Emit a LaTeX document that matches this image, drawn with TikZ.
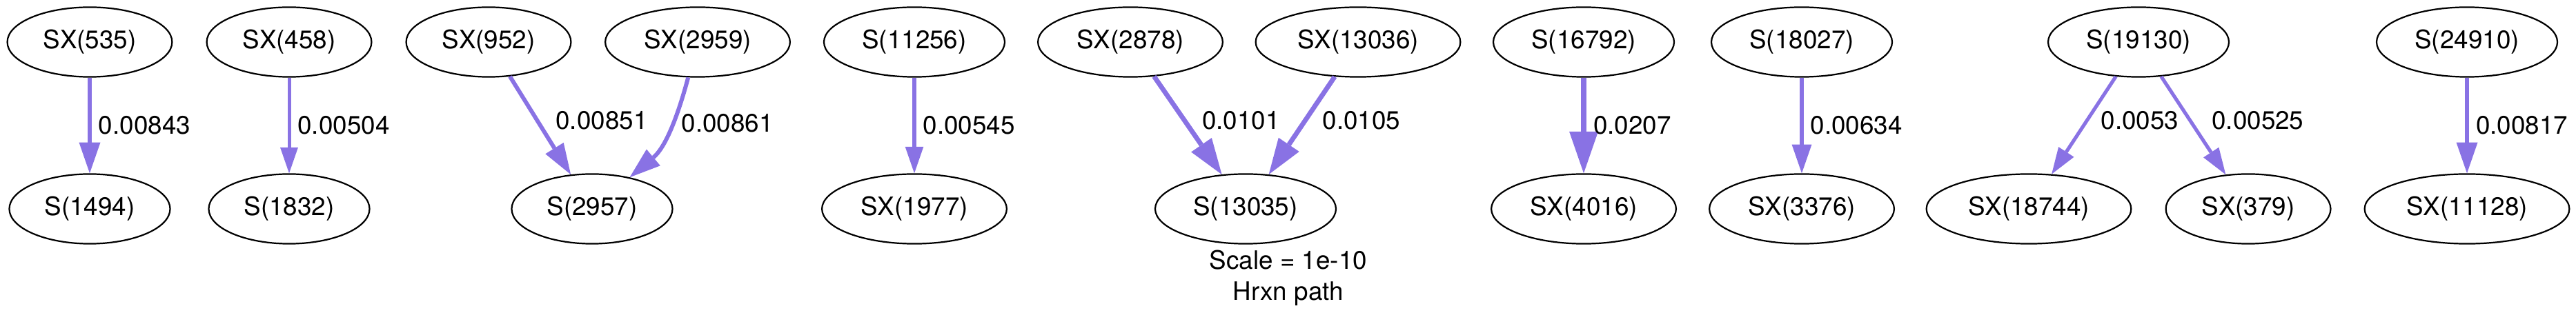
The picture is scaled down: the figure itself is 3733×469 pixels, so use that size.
\documentclass[tikz,border=0pt]{standalone}
\usepackage{fontspec}
\setmainfont{TeX Gyre Heros}
\usetikzlibrary{arrows.meta, shapes.geometric}
\definecolor{fluxcol}{RGB}{137,114,228}

\begin{document}
\begin{tikzpicture}[x=0.36pt, y=0.36pt, font=\fontsize{13.25}{16.2}\selectfont,
  species/.style = {draw, ellipse, line width=0.8pt, inner xsep=6.1pt, inner ysep=3pt, minimum height=36.4pt},
  flux/.style = {draw=fluxcol, line width=#1, -{Triangle[length=0pt 7.5, width=0pt 5.2, line width=0pt]}},
  lbl/.style = {right, inner sep=3.6pt, text=black}
]
\useasboundingbox (0,0) rectangle (3733,469);
% sources
\node[species] (sx535) at (130,408) {SX(535)};
\node[species] (sx458) at (419,408) {SX(458)};
\node[species] (sx952) at (708,408) {SX(952)};
\node[species] (sx2959) at (1011,408) {SX(2959)};
\node[species] (s11256) at (1325,408) {S(11256)};
\node[species] (sx2878) at (1638,408) {SX(2878)};
\node[species] (sx13036) at (1968,408) {SX(13036)};
\node[species] (s16792) at (2295,408) {S(16792)};
\node[species] (s18027) at (2611,408) {S(18027)};
\node[species] (s19130) at (3099,408) {S(19130)};
\node[species] (s24910) at (3575,408) {S(24910)};
% products
\node[species] (s1494) at (130,166) {S(1494)};
\node[species] (s1832) at (419,166) {S(1832)};
\node[species] (s2957) at (858,166) {S(2957)};
\node[species] (sx1977) at (1325,166) {SX(1977)};
\node[species] (s13035) at (1805,166) {S(13035)};
\node[species] (sx4016) at (2295,166) {SX(4016)};
\node[species] (sx3376) at (2611,166) {SX(3376)};
\node[species] (sx18744) at (2940,166) {SX(18744)};
\node[species] (sx379) at (3258,166) {SX(379)};
\node[species] (sx11128) at (3575,166) {SX(11128)};
% fluxes
\draw[flux=2.15pt] (sx535) -- node[lbl] {0.00843} (s1494);
\draw[flux=1.8pt] (sx458) -- node[lbl] {0.00504} (s1832);
\draw[flux=2.15pt] (sx952) -- node[lbl, pos=0.45, xshift=5pt] {0.00851} (s2957);
\draw[flux=2.15pt] (sx2959) to[out=-105, in=40] node[lbl, pos=0.4] {0.00861} (s2957);
\draw[flux=1.85pt] (s11256) -- node[lbl] {0.00545} (sx1977);
\draw[flux=2.5pt] (sx2878) -- node[lbl, pos=0.45, xshift=4.3pt] {0.0101} (s13035);
\draw[flux=2.5pt] (sx13036) -- node[lbl, pos=0.45, xshift=4.3pt] {0.0105} (s13035);
\draw[flux=2.9pt] (s16792) -- node[lbl] {0.0207} (sx4016);
\draw[flux=2pt] (s18027) -- node[lbl] {0.00634} (sx3376);
\draw[flux=1.85pt] (s19130) -- node[lbl, pos=0.45, xshift=2.8pt] {0.0053} (sx18744);
\draw[flux=1.85pt] (s19130) -- node[lbl, pos=0.45, xshift=6.8pt] {0.00525} (sx379);
\draw[flux=2.15pt] (s24910) -- node[lbl] {0.00817} (sx11128);
\node[align=center] (caption) at (1867,66) {Scale = 1e-10\\Hrxn path};
\end{tikzpicture}
\end{document}
